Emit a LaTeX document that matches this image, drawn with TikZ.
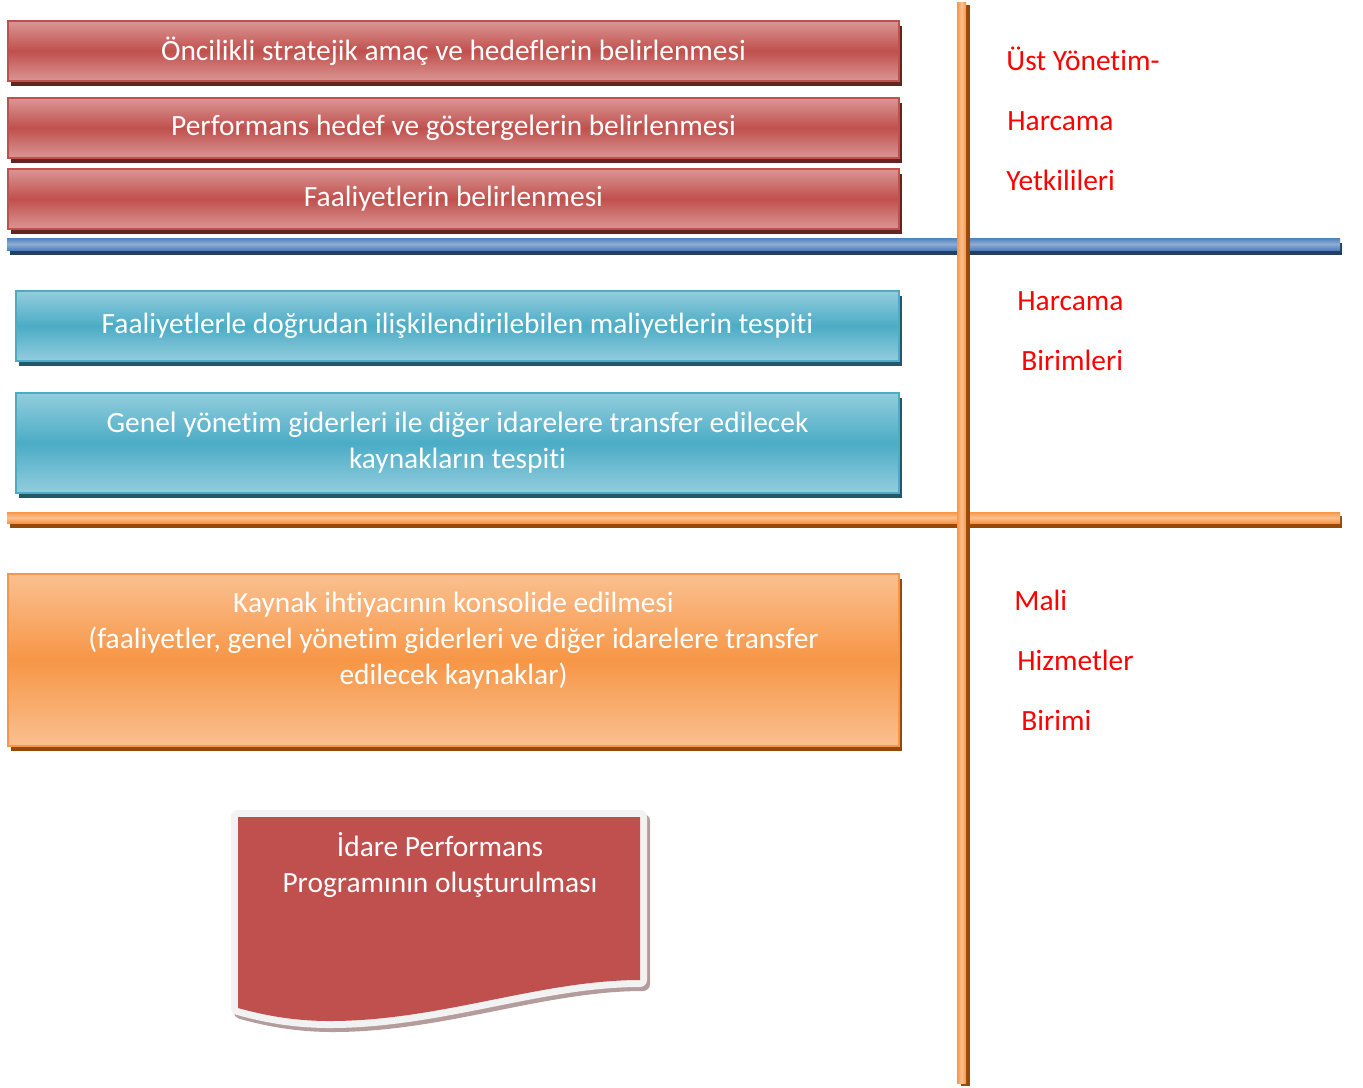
\documentclass[tikz,border=0pt]{standalone}
\usepackage{fontspec}
\setmainfont{Carlito}[Ligatures=NoCommon]
\usepackage{tikz}
\usetikzlibrary{positioning,shadows,calc}
\definecolor{redmid}{HTML}{C0504D}
\definecolor{redlight}{HTML}{DA9694}
\definecolor{redshade}{HTML}{632523}
\definecolor{bluemid}{HTML}{4BACC6}
\definecolor{bluelight}{HTML}{93CDDD}
\definecolor{blueshade}{HTML}{215968}
\definecolor{orgmid}{HTML}{F79646}
\definecolor{orglight}{HTML}{FAC090}
\definecolor{orgshade}{HTML}{984807}
\definecolor{linemid}{HTML}{4F81BD}
\definecolor{linelight}{HTML}{8EACD6}
\definecolor{lineshade}{HTML}{243F60}
\definecolor{docframe}{HTML}{F2F2F2}
\definecolor{docshade}{HTML}{B59C9C}
\tikzset{
  stepbox/.style  = {rectangle,draw,line width=1pt,anchor=north west,
                     align=center,text=white,inner sep=0pt,
                     font=\fontsize{14.7pt}{18pt}\selectfont},
  redbox/.style   = {stepbox,draw=redmid,top color=redlight,bottom color=redlight,
                     middle color=redmid,minimum width=445.5pt,minimum height=30pt,
                     general shadow={fill=redshade,shadow xshift=1.5pt,shadow yshift=-2.5pt}},
  bluebox/.style  = {stepbox,draw=bluemid,top color=bluelight,bottom color=bluelight,
                     middle color=bluemid,minimum width=441.5pt,
                     general shadow={fill=blueshade,shadow xshift=1.5pt,shadow yshift=-2.5pt}},
  orgbox/.style   = {stepbox,draw=orgmid,top color=orglight,bottom color=orglight,
                     middle color=orgmid,minimum width=445.5pt,
                     general shadow={fill=orgshade,shadow xshift=1.5pt,shadow yshift=-2.5pt}},
  boxtext/.style  = {align=center,text=white,inner sep=0pt,
                     font=\fontsize{14.7pt}{18pt}\selectfont},
  sidelbl/.style  = {anchor=base west,text=red,inner sep=0pt,
                     font=\fontsize{14.7pt}{18pt}\selectfont},
}

\begin{document}
\begin{tikzpicture}[x=0.5pt,y=-0.5pt]
    \useasboundingbox (0,0) rectangle (1363,1087);

    % horizontal separators
    \fill[lineshade] (10,243) rectangle (1342,255);
    \shade[top color=linemid,bottom color=linemid,middle color=linelight]
          (7,238) rectangle (1340,250);
    \fill[orgshade] (10,516) rectangle (1342,528);
    \shade[top color=orgmid,bottom color=orgmid,middle color=orglight]
          (7,512) rectangle (1340,523);

    % vertical separator
    \fill[orgshade] (961,5) rectangle (970,1086);
    \shade[left color=orgmid,right color=orgmid,middle color=orglight]
          (957,2) rectangle (966,1083);

    % steps
    \node[redbox] (goals) at (7,20) {Öncilikli stratejik amaç ve hedeflerin belirlenmesi};
    \node[redbox] (perfind) at (7,97) {Performans hedef ve göstergelerin belirlenmesi};
    \node[redbox] (activities) at (7,168) {Faaliyetlerin belirlenmesi};
    \node[bluebox,minimum height=35pt] (directcost) at (15,290)
          {Faaliyetlerle doğrudan ilişkilendirilebilen maliyetlerin tespiti};
    \node[bluebox,minimum height=50pt] (overhead) at (15,392)
          {Genel yönetim giderleri ile diğer idarelere transfer edilecek\\ kaynakların tespiti};
    \node[orgbox,minimum height=86pt] (consolid) at (7,573) {};
    \node[boxtext] (consolidtext) at ([yshift=9.5pt]consolid.center)
          {Kaynak ihtiyacının konsolide edilmesi\\
           (faaliyetler, genel yönetim giderleri ve diğer idarelere transfer\\
           edilecek kaynaklar)};

    % document shape
    \draw[docshade,line width=7pt,line join=round,shift={(3,4)}]
          (238,817) -- (640,817) -- (640,980)
          .. controls (540,980) and (440,1021) .. (330,1021)
          .. controls (290,1021) and (260,1014) .. (238,1008) -- cycle;
    \draw[docframe,fill=redmid,line width=7pt,line join=round] (238,817) -- (640,817) -- (640,980)
          .. controls (540,980) and (440,1021) .. (330,1021)
          .. controls (290,1021) and (260,1014) .. (238,1008) -- cycle;
    \fill[redmid] (238,817) -- (640,817) -- (640,980)
          .. controls (540,980) and (440,1021) .. (330,1021)
          .. controls (290,1021) and (260,1014) .. (238,1008) -- cycle;
    \node[boxtext] (program) at (440,865) {İdare Performans\\ Programının oluşturulması};

    % responsible units
    \foreach \x/\y/\txt [count=\i] in {1006/70/Üst Yönetim-,1007/130/Harcama,1006/190/Yetkilileri,
        1017/310/Harcama,1021/370/Birimleri,1014/610/Mali,1017/670/Hizmetler,1021/730/Birimi}
      \node[sidelbl] (unit\i) at (\x,\y) {\txt};
  \end{tikzpicture}
\end{document}
